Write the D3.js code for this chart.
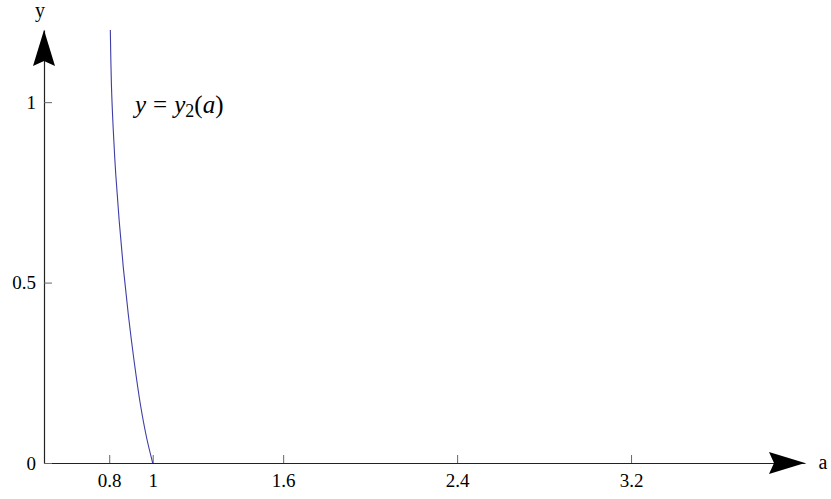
<!DOCTYPE html>
<html>
<head>
<meta charset="utf-8">
<script src="https://cdn.jsdelivr.net/npm/d3@7"></script>
<style>
  html, body { margin: 0; padding: 0; background: #fff; }
  svg { display: block; }
  text { font-family: "Liberation Serif", "DejaVu Serif", serif; }
</style>
</head>
<body>
<svg id="chart" width="831" height="499"></svg>
<script>
// Branch y = y2(a) sampled along the curve
const aValues = [0.805, 0.810, 0.818, 0.830, 0.846, 0.865, 0.888, 0.915, 0.944, 0.972, 1.0];
const yValues = [1.2, 1.05, 0.93, 0.80, 0.67, 0.54, 0.41, 0.28, 0.16, 0.07, 0];

// Axis ticks
const xTicks = [0.8, 1, 1.6, 2.4, 3.2];
const xTickLabels = ["0.8", "1", "1.6", "2.4", "3.2"];
const yTicks = [0, 0.5, 1];
const yTickLabels = ["0", "0.5", "1"];

const xDomain = [0.5, 4];
const yDomain = [0, 1.2];

const serif = "'Liberation Serif', 'DejaVu Serif', serif";
const svg = d3.select("#chart");

const x = d3.scaleLinear().domain(xDomain).range([44, 805]);
const y = d3.scaleLinear().domain(yDomain).range([463, 30]);

const axisColor = "#222";
const tickColor = "#666";

// x axis
const gx = svg.append("g")
  .attr("transform", `translate(0,${y(0)})`)
  .call(d3.axisBottom(x)
    .tickValues(xTicks)
    .tickFormat((d, i) => xTickLabels[i])
    .tickSizeInner(-8)
    .tickSizeOuter(0)
    .tickPadding(11));

// y axis
const gy = svg.append("g")
  .attr("transform", `translate(${x(xDomain[0])},0)`)
  .call(d3.axisLeft(y)
    .tickValues(yTicks)
    .tickFormat((d, i) => yTickLabels[i])
    .tickSizeInner(-8)
    .tickSizeOuter(0)
    .tickPadding(8));

[gx, gy].forEach(g => {
  g.attr("font-family", null);
  g.select(".domain").attr("stroke", axisColor).attr("stroke-width", 1.2);
  g.selectAll(".tick line").attr("stroke", tickColor).attr("stroke-width", 1);
  g.selectAll(".tick text")
    .attr("fill", "#000")
    .style("font-family", serif)
    .style("font-size", "19px");
});

// arrowheads at the ends of both axes
const xEnd = x(xDomain[1]);
const yEnd = y(yDomain[1]);
const y0 = y(0);
const x0 = x(xDomain[0]);
const headLen = 36, headHalf = 11, notch = 5;

svg.append("path")
  .attr("d", `M${xEnd},${y0} L${xEnd - headLen},${y0 - headHalf} L${xEnd - headLen + notch},${y0} L${xEnd - headLen},${y0 + headHalf} Z`)
  .attr("fill", "#000");

svg.append("path")
  .attr("d", `M${x0},${yEnd} L${x0 - headHalf},${yEnd + headLen} L${x0},${yEnd + headLen - notch} L${x0 + headHalf},${yEnd + headLen} Z`)
  .attr("fill", "#000");

// axis names
svg.append("text")
  .attr("x", 823).attr("y", y0)
  .attr("dy", "0.32em")
  .attr("text-anchor", "middle")
  .style("font-family", serif)
  .style("font-size", "20px")
  .text("a");

svg.append("text")
  .attr("x", x0 - 4).attr("y", 17)
  .attr("text-anchor", "middle")
  .style("font-family", serif)
  .style("font-size", "20px")
  .text("y");

// curve
const pts = aValues.map((a, i) => [a, yValues[i]]);
const line = d3.line()
  .x(d => x(d[0]))
  .y(d => y(d[1]))
  .curve(d3.curveCatmullRom.alpha(0.5));

svg.append("path")
  .datum(pts)
  .attr("d", line)
  .attr("fill", "none")
  .attr("stroke", "#3d3da6")
  .attr("stroke-width", 1.1);

// curve label
const lbl = svg.append("text")
  .attr("x", 135).attr("y", 113)
  .style("font-family", serif)
  .style("font-size", "25px")
  .style("font-style", "italic");
lbl.append("tspan").text("y");
lbl.append("tspan").style("font-style", "normal").attr("dx", 7).text("=");
lbl.append("tspan").attr("dx", 7).text("y");
lbl.append("tspan").style("font-style", "normal").style("font-size", "18px").attr("dy", 4).text("2");
lbl.append("tspan").style("font-style", "normal").attr("dy", -4).text("(");
lbl.append("tspan").text("a");
lbl.append("tspan").style("font-style", "normal").text(")");
</script>
</body>
</html>
